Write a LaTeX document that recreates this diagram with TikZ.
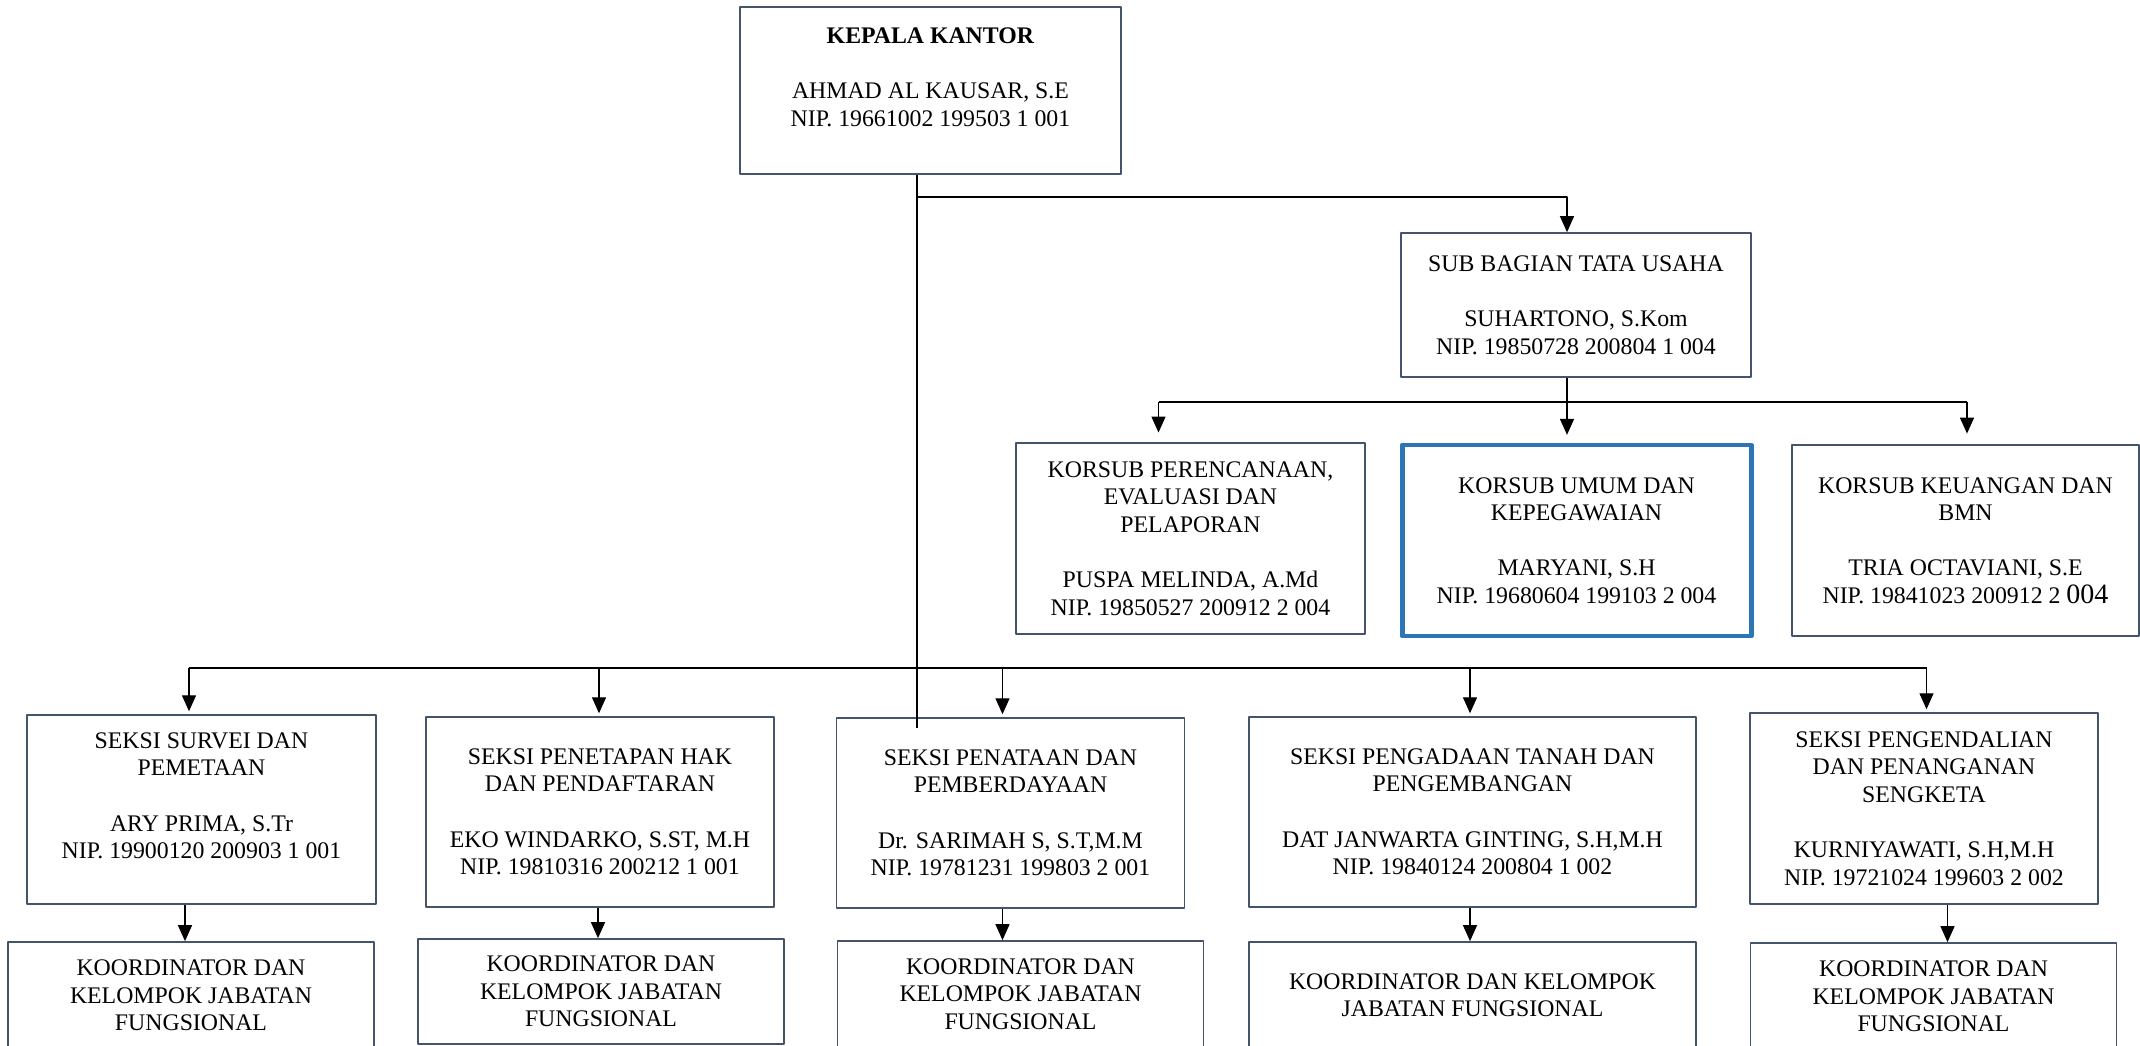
\documentclass[tikz,border=0pt]{standalone}
\usepackage{fontspec}
\setmainfont{Liberation Serif}
\usepackage{xcolor}
\usetikzlibrary{arrows.meta}
\definecolor{framegray}{RGB}{68,84,106}
\definecolor{markblue}{RGB}{46,117,182}
\newcommand{\gapline}{\\[14.6pt]}
\tikzset{
  unit/.style 2 args={draw=framegray,line width=0.9pt,align=center,inner sep=0pt,
    minimum width=#1*0.5212pt,minimum height=#2*0.5212pt,
    font=\fontsize{12.4pt}{14.3pt}\selectfont},
  link/.style={line width=0.6pt},
  arr/.style={link,-{Triangle[length=8.3pt,width=7.3pt]}}
}
\begin{document}
\begin{tikzpicture}[x=0.5212pt,y=-0.5212pt,line join=round]
\useasboundingbox (0,0) rectangle (2140,1046);
\clip (0,0) rectangle (2140,1046);
% pimpinan dan tata usaha
\node[unit={381}{167}] (kepala) at (930.5,90.5) {\textbf{KEPALA KANTOR}\gapline AHMAD AL KAUSAR, S.E\\NIP. 19661002 199503 1 001\\ \mbox{}};
\node[unit={350}{144}] (tu) at (1576,305) {SUB BAGIAN TATA USAHA\gapline SUHARTONO, S.Kom\\NIP. 19850728 200804 1 004};
% korsub
\node[unit={349}{191}] (perencanaan) at (1190.5,538.5) {KORSUB PERENCANAAN,\\EVALUASI DAN\\PELAPORAN\gapline PUSPA MELINDA, A.Md\\NIP. 19850527 200912 2 004};
\node[unit={349}{191},draw=markblue,line width=2.6pt] (umum) at (1576.5,540.5) {KORSUB UMUM DAN\\KEPEGAWAIAN\gapline MARYANI, S.H\\NIP. 19680604 199103 2 004};
\node[unit={347}{191}] (keuangan) at (1965.5,540.5) {KORSUB KEUANGAN DAN\\BMN\gapline TRIA OCTAVIANI, S.E\\NIP. 19841023 200912 2 {\fontsize{14.6pt}{14.3pt}\selectfont 004}};
% seksi
\node[unit={349}{189}] (survei) at (201.5,809.5) {SEKSI SURVEI DAN\\PEMETAAN\gapline ARY PRIMA, S.Tr\\NIP. 19900120 200903 1 001\\ \mbox{}};
\node[unit={348}{190}] (penetapan) at (600,812) {SEKSI PENETAPAN HAK\\DAN PENDAFTARAN\gapline EKO WINDARKO, S.ST, M.H\\NIP. 19810316 200212 1 001};
\node[unit={348}{190}] (penataan) at (1010.5,813) {SEKSI PENATAAN DAN\\PEMBERDAYAAN\gapline Dr. SARIMAH S, S.T,M.M\\NIP. 19781231 199803 2 001};
\node[unit={447}{190}] (pengadaan) at (1472.5,812) {SEKSI PENGADAAN TANAH DAN\\PENGEMBANGAN\gapline DAT JANWARTA GINTING, S.H,M.H\\NIP. 19840124 200804 1 002};
\node[unit={348}{191}] (pengendalian) at (1924,808.5) {SEKSI PENGENDALIAN\\DAN PENANGANAN\\SENGKETA\gapline KURNIYAWATI, S.H,M.H\\NIP. 19721024 199603 2 002};
% kelompok jabatan fungsional
\foreach \n/\cx/\cy/\h in {1/191/995.5/107,2/601/991.5/105,3/1020.5/994/106,5/1933.5/996.5/107}
  \node[unit={366}{\h}] (jf\n) at (\cx,\cy) {KOORDINATOR DAN\\KELOMPOK JABATAN\\FUNGSIONAL};
\node[unit={447}{107}] (jf4) at (1472.5,995.5) {KOORDINATOR DAN KELOMPOK\\JABATAN FUNGSIONAL};
% garis komando
\coordinate (trunk) at (917,197);
\coordinate (trunkend) at (917,728);
\draw[link] (kepala.south -| trunk) -- (trunkend);
\coordinate (tuknee) at (1567,197);
\draw[arr] (trunk) -- (tuknee) -- (tuknee |- tu.north);
\coordinate (ksbus) at (1567,402);
\coordinate (ksl) at (1158.5,402);
\coordinate (ksr) at (1967,402);
\draw[link] (tu.south -| ksbus) -- (ksbus);
\draw[link] (ksl) -- (ksr);
\draw[arr,shorten >=5pt] (ksl) -- (ksl |- perencanaan.north);
\draw[arr,shorten >=4pt] (ksbus) -- (ksbus |- umum.north);
\draw[arr,shorten >=5.5pt] (ksr) -- (ksr |- keuangan.north);
\coordinate (sxl) at (189,668);
\coordinate (sxr) at (1926.5,668);
\draw[link] (sxl) -- (sxr);
\foreach \x/\s in {189/survei,599/penetapan,1002.5/penataan,1470/pengadaan,1926.5/pengendalian}{
  \coordinate (b) at (\x,668);
  \draw[arr,shorten >=1.5pt] (b) -- (b |- \s.north);}
\foreach \x/\a/\b in {185/survei/jf1,598/penetapan/jf2,1002.5/penataan/jf3,1470/pengadaan/jf4,1947.5/pengendalian/jf5}{
  \coordinate (c) at (\x,0);
  \draw[arr] (\a.south -| c) -- (\b.north -| c);}
\end{tikzpicture}
\end{document}
